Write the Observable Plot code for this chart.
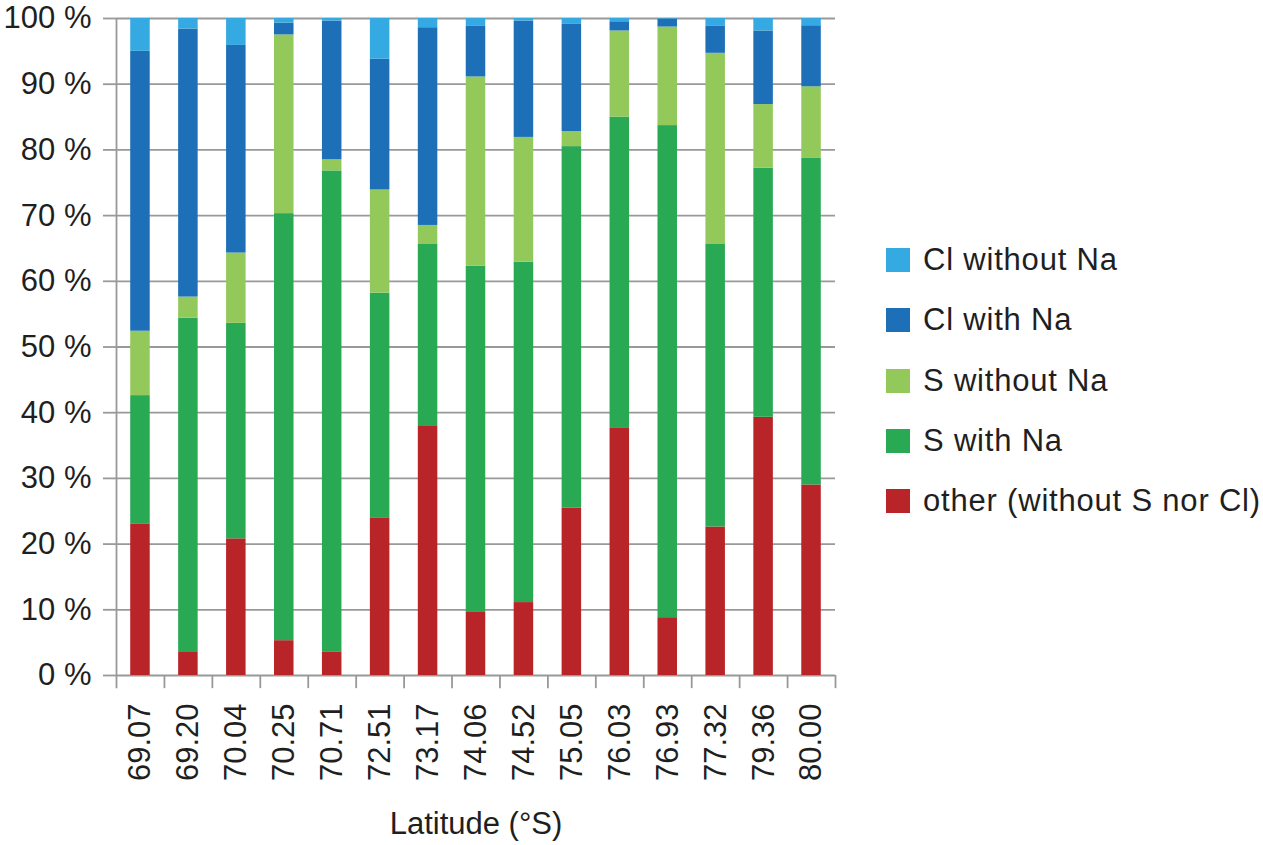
<!DOCTYPE html>
<html>
<head>
<meta charset="utf-8">
<script src="https://cdn.jsdelivr.net/npm/d3@7"></script>
<script src="https://cdn.jsdelivr.net/npm/@observablehq/plot@0.6"></script>
<style>
  html, body { margin: 0; padding: 0; background: #fff; }
  #wrap { position: relative; width: 1263px; height: 845px; font-family: "Liberation Sans", Arial, sans-serif; color: #1f1f1f; }
  #legend { position: absolute; left: 886px; top: 230px; }
  .row { display: flex; align-items: center; height: 60.3px; font-size: 31px; letter-spacing: 0.8px; white-space: nowrap; }
  .sw { width: 24px; height: 24px; margin-right: 13px; flex: none; }
</style>
</head>
<body>
<div id="wrap"><div id="chart"></div><div id="legend"></div></div>
<script>
const lats = ["69.07","69.20","70.04","70.25","70.71","72.51","73.17","74.06","74.52","75.05","76.03","76.93","77.32","79.36","80.00"];
const seriesNames = ["other (without S nor Cl)","S with Na","S without Na","Cl with Na","Cl without Na"];
const seriesColors = ["#b92428","#2aa955","#93c95a","#1d70b7","#35a9e1"];
const other       = [23.0, 3.5, 20.8, 5.3, 3.6, 24.0, 37.9, 9.7, 11.1, 25.5, 37.6, 8.8, 22.6, 39.3, 29.0];
const sWithNa     = [19.6, 50.9, 32.8, 65.0, 73.2, 34.2, 27.7, 52.6, 51.8, 55.0, 47.4, 74.9, 43.0, 37.9, 49.7];
const sWithoutNa  = [9.8, 3.2, 10.7, 27.2, 1.7, 15.7, 2.9, 28.8, 19.0, 2.3, 13.1, 15.0, 29.1, 9.7, 10.9];
const clWithNa    = [42.6, 40.8, 31.6, 1.8, 21.1, 19.9, 30.1, 7.7, 17.7, 16.3, 1.4, 1.2, 4.1, 11.2, 9.3];
const clWithoutNa = [5.0, 1.6, 4.1, 0.7, 0.4, 6.2, 1.4, 1.2, 0.4, 0.9, 0.5, 0.1, 1.2, 1.9, 1.1];
const yTicks = [0,10,20,30,40,50,60,70,80,90,100];
const xTitle = "Latitude (°S)";

const seriesValues = [other, sWithNa, sWithoutNa, clWithNa, clWithoutNa];
const table = [];
seriesNames.forEach((s, i) => lats.forEach((lat, j) => table.push({lat, series: s, value: seriesValues[i][j]})));

const W = 850, ML = 116, MR = 15;
const step = (W - ML - MR) / lats.length;

const chart = Plot.plot({
  width: W, height: 845,
  marginLeft: ML, marginRight: MR, marginTop: 18, marginBottom: 170,
  style: {fontFamily: "'Liberation Sans', Arial, sans-serif", fontSize: "31px", background: "white", overflow: "visible"},
  x: {domain: lats, paddingInner: 0.593, paddingOuter: 0.2965, round: false},
  y: {domain: [0, 100]},
  color: {domain: seriesNames, range: seriesColors},
  marks: [
    Plot.ruleY(yTicks, {stroke: "#999", strokeWidth: 1.8}),
    Plot.barY(table, {x: "lat", y: "value", fill: "series", order: seriesNames}),
    Plot.ruleX(lats, {x: d => d, y1: -2, y2: d => d === lats[0] ? 100 : 0, dx: -step / 2, stroke: "#999", strokeWidth: 1.8}),
    Plot.ruleX([lats[lats.length - 1]], {x: d => d, y1: -2, y2: 0, dx: step / 2, stroke: "#999", strokeWidth: 1.8}),
    Plot.axisY({ticks: yTicks, tickSize: 13, tickPadding: 12, tickFormat: d => `${d} %`, stroke: "#999", strokeWidth: 1.8, fill: "#1f1f1f", label: null, letterSpacing: 0.4}),
    Plot.axisX({tickSize: 0, tickPadding: 28, tickRotate: -90, fill: "#1f1f1f", label: null, letterSpacing: 0.6}),
    Plot.text([xTitle], {frameAnchor: "bottom", dy: 158, fill: "#1f1f1f", fontSize: 31, letterSpacing: 0.9})
  ]
});
document.getElementById("chart").append(chart);

const legend = document.getElementById("legend");
[...seriesNames].reverse().forEach((s) => {
  const i = seriesNames.indexOf(s);
  const row = document.createElement("div");
  row.className = "row";
  const sw = document.createElement("div");
  sw.className = "sw";
  sw.style.background = seriesColors[i];
  const t = document.createElement("span");
  t.textContent = s;
  row.append(sw, t);
  legend.append(row);
});
</script>
</body>
</html>
